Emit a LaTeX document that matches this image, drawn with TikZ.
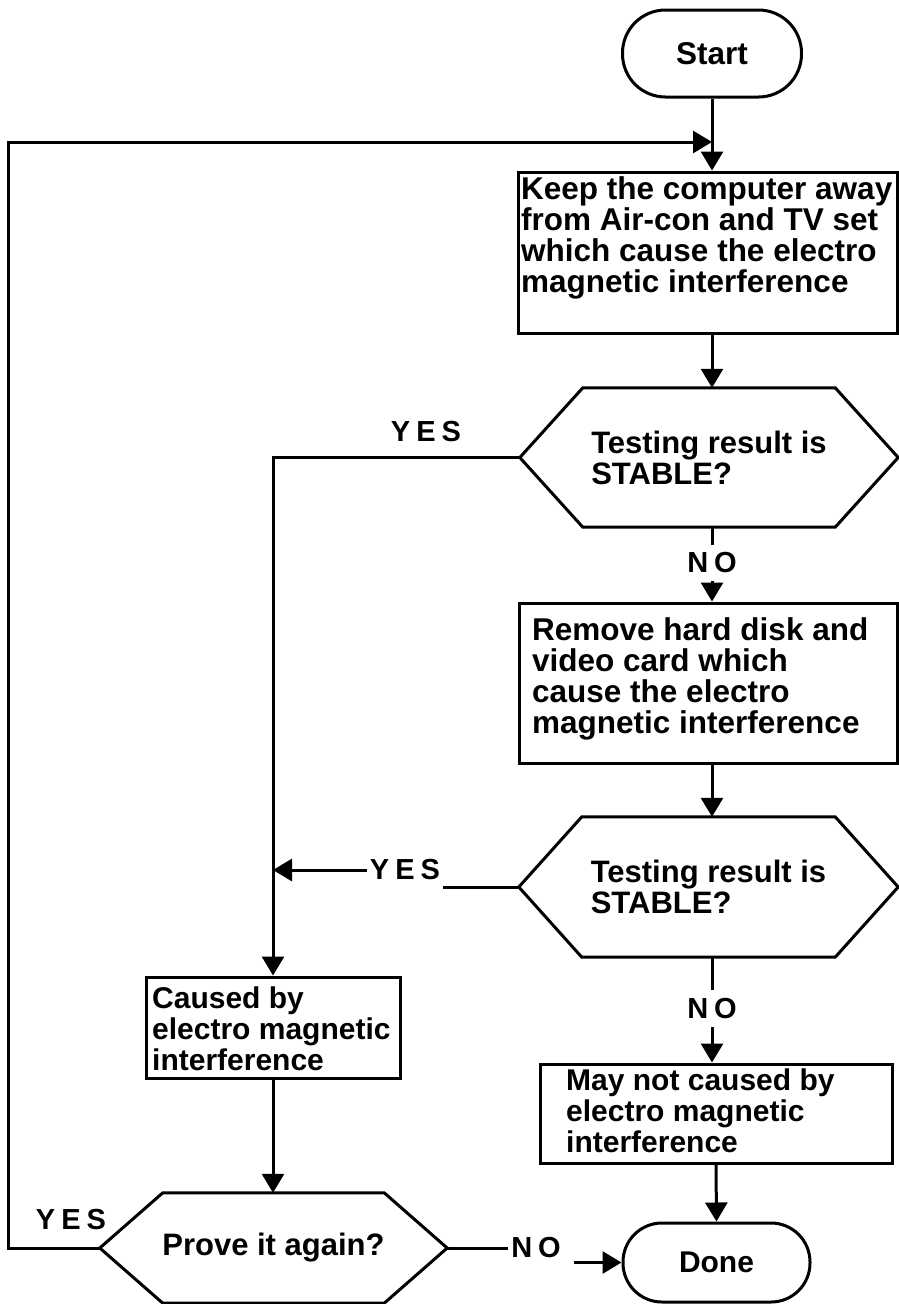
\documentclass[tikz,border=0pt]{standalone}
\usepackage{fontspec}
\setmainfont{Liberation Sans}
\usetikzlibrary{arrows.meta,calc}

\tikzset{
  flow/.style={line width=3pt, line join=miter},
  arr/.style={flow, -{Triangle[length=19pt,width=22pt]}},
  terminal/.style={draw, line width=3pt, inner sep=0pt,
    font=\bfseries\fontsize{30pt}{30pt}\selectfont},
  stepbox/.style={draw, line width=3pt, inner sep=0pt},
  boxtext/.style={anchor=north west, align=left, inner sep=0pt,
    font=\bfseries\fontsize{30pt}{31pt}\selectfont},
  hexnode/.style={inner sep=0pt, align=left,
    font=\bfseries\fontsize{31pt}{31pt}\selectfont},
  tag/.style={font=\bfseries\fontsize{29pt}{29pt}\selectfont,
    inner xsep=3pt, inner ysep=8pt},
}

% hexagonal decision outline around a named node, #2 = chamfer width
\newcommand{\hexoutline}[2]{%
  \draw[flow] (#1.west) -- ($(#1.north west)+(#2,0)$)
    -- ($(#1.north east)+(-#2,0)$) -- (#1.east)
    -- ($(#1.south east)+(-#2,0)$) -- ($(#1.south west)+(#2,0)$) -- cycle;}

\begin{document}
\begin{tikzpicture}[x=1pt,y=-1pt]
  \fill[white] (0,0) rectangle (898,1304);
  \useasboundingbox (0,0) rectangle (898,1304);

  % terminals
  \node[terminal, font=\bfseries\fontsize{31.5pt}{31.5pt}\selectfont,
    rounded corners=43pt, minimum width=179pt, minimum height=87pt]
    (start) at (712,53.5) {Start};
  \node[terminal, rounded corners=39pt, minimum width=187pt, minimum height=79pt]
    (done) at (716.5,1262.5) {Done};

  % process boxes
  \node[stepbox, minimum width=379pt, minimum height=161pt] (b1) at (707.5,252.5) {};
  \node[boxtext, font=\bfseries\fontsize{31.5pt}{31pt}\selectfont] (b1t) at (521,176)
    {Keep the computer away\\from Air-con and TV set\\which cause the electro\\magnetic interference};

  \node[stepbox, minimum width=378pt, minimum height=160pt] (b2) at (708,683) {};
  \node[boxtext, font=\bfseries\fontsize{31.5pt}{31pt}\selectfont] (b2t) at (532,617)
    {Remove hard disk and\\video card which\\cause the electro\\magnetic interference};

  \node[stepbox, minimum width=352pt, minimum height=99pt] (b3) at (716,1113.5) {};
  \node[boxtext] (b3t) at (566,1069) {May not caused by\\electro magnetic\\interference};

  \node[stepbox, minimum width=254pt, minimum height=101pt] (cb) at (273,1027.5) {};
  \node[boxtext] (cbt) at (152,987) {Caused by\\electro magnetic\\interference};

  % decisions
  \node[hexnode, minimum width=378pt, minimum height=139pt] (d1) at (709,457.5)
    {Testing result is\\STABLE?};
  \hexoutline{d1}{63}
  \node[hexnode, minimum width=379pt, minimum height=140pt] (d2) at (708.5,887)
    {Testing result is\\STABLE?};
  \hexoutline{d2}{63}
  \node[hexnode, minimum width=347pt, minimum height=110pt] (d3) at (273.5,1248)
    {Prove it again?};
  \hexoutline{d3}{63}

  % branch labels
  \node[tag] (yes1) at (426,432) {Y\kern6pt E\kern6pt S};
  \node[tag] (no1) at (712,563) {N\kern6pt O};
  \node[tag] (yes2) at (405,870) {Y\kern6pt E\kern6pt S};
  \node[tag] (no2) at (712,1008.5) {N\kern6pt O};
  \node[tag] (yes3) at (71,1220) {Y\kern6pt E\kern6pt S};
  \node[tag] (no3) at (536,1248) {N\kern6pt O};

  \coordinate (join) at (712,142);
  \coordinate (loopL) at (8,1248);

  % main column
  \draw[arr] (start.south) -- (start.south |- b1.north);
  \draw[arr] (b1.south -| start) -- (d1.north -| start);
  \draw[flow] (d1.south -| start) -- (no1.north);
  \draw[arr] (no1.south) -- (no1.south |- b2.north);
  \draw[arr] (b2.south -| start) -- (d2.north -| start);
  \draw[flow] (d2.south -| start) -- (no2.north);
  \draw[arr] (no2.south) -- (no2.south |- b3.north);
  \draw[arr] (b3.south) -- (done.north);

  % YES branches into the left column
  \draw[arr] (d1.west) -- (d1.west -| cb.north) -- (cb.north);
  \draw[flow] (d2.west) -- (d2.west -| yes2.east);
  \draw[arr] (yes2.west) -- (yes2.west -| cb.north);
  \draw[arr] (cb.south) -- (cb.south |- d3.north);

  % repeat loop and exit
  \draw[arr] (d3.west) -- (loopL) |- (join);
  \draw[flow] (d3.east) -- (no3.west);
  \draw[arr] ([xshift=10pt]no3.east |- done.west) -- (done.west);
\end{tikzpicture}
\end{document}
